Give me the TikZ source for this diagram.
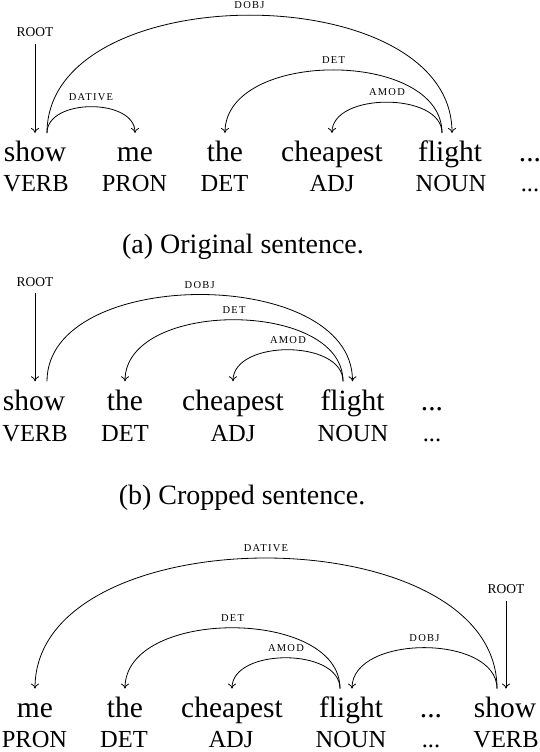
\documentclass[tikz,border=0pt]{standalone}
\usepackage{fontspec}
\setmainfont{Liberation Serif}
\newfontfamily\lblfont[LetterSpace=12]{Liberation Serif}
\usetikzlibrary{arrows.meta}

\begin{document}
\begin{tikzpicture}[x=1pt, y=-1pt,
        word/.style={anchor=base, inner sep=0pt, text height=28.5pt, text depth=0pt, font=\fontsize{29.5}{30}\selectfont},
        postag/.style={anchor=base, inner sep=0pt, text height=17pt, text depth=0pt, font=\fontsize{24.5}{25}\selectfont},
        rootlbl/.style={inner sep=0pt, font=\fontsize{13.5}{14}\selectfont},
        lbl/.style={inner sep=0pt, font=\lblfont\fontsize{10.5}{11}\selectfont},
        dep/.style={line width=0.8pt, -{To[length=5pt,width=8pt]}},
        capt/.style={anchor=base, inner sep=0pt, font=\fontsize{28}{30}\selectfont}]
        \useasboundingbox (0,0) rectangle (540,752);

        % (a) original sentence
        \node[word] (showA) at (35,161.7) {show};
        \node[word] (meA) at (135,161.7) {me};
        \node[word] (theA) at (225,161.7) {the};
        \node[word] (cheapestA) at (332,161.7) {cheapest};
        \node[word] (flightA) at (450,161.7) {flight};
        \node[word] (dotsA) at (530,161.7) {...};
        \node[postag] (verbA) at (36,191.7) {VERB};
        \node[postag] (pronA) at (134.5,191.7) {PRON};
        \node[postag] (detA) at (224.5,191.7) {DET};
        \node[postag] (adjA) at (332,191.7) {ADJ};
        \node[postag] (nounA) at (451,191.7) {NOUN};
        \node[postag] (tagdotsA) at (530,191.7) {...};

        \node[rootlbl] (rootA) at (35,32.3) {ROOT};
        \draw[dep] ([yshift=-7pt]rootA.south) -- (showA.north);
        \draw[dep] ([xshift=12pt]showA.north) .. controls +(0,-35) and +(0,-35) .. (meA.north) node[lbl, midway, above=6pt] {DATIVE};
        \draw[dep] ([xshift=12pt]showA.north) .. controls +(0,-157) and +(0,-157) .. ([xshift=2pt]flightA.north) node[lbl, midway, above=6pt] {DOBJ};
        \draw[dep] ([xshift=-8pt]flightA.north) .. controls +(0,-84) and +(0,-84) .. (theA.north) node[lbl, midway, above=6pt] {DET};
        \draw[dep] ([xshift=-8pt]flightA.north) .. controls +(0,-41) and +(0,-41) .. (cheapestA.north) node[lbl, midway, above=6pt] {AMOD};

        \node[capt] (captA) at (243,253.5) {(a) Original sentence.};

        % (b) cropped sentence
        \node[word] (showB) at (34,410) {show};
        \node[word] (theB) at (125,410) {the};
        \node[word] (cheapestB) at (233,410) {cheapest};
        \node[word] (flightB) at (352.5,410) {flight};
        \node[word] (dotsB) at (432,410) {...};
        \node[postag] (verbB) at (35,441.7) {VERB};
        \node[postag] (detB) at (125,441.7) {DET};
        \node[postag] (adjB) at (233,441.7) {ADJ};
        \node[postag] (nounB) at (353,441.7) {NOUN};
        \node[postag] (tagdotsB) at (432,441.7) {...};

        \node[rootlbl] (rootB) at (35,281.7) {ROOT};
        \draw[dep] ([yshift=-7pt]rootB.south) -- ([xshift=1pt]showB.north);
        \draw[dep] ([xshift=13pt]showB.north) .. controls +(0,-115.6) and +(0,-115.6) .. (flightB.north) node[lbl, midway, above=6pt] {DOBJ};
        \draw[dep] ([xshift=-9.5pt]flightB.north) .. controls +(0,-82) and +(0,-82) .. (theB.north) node[lbl, midway, above=6pt] {DET};
        \draw[dep] ([xshift=-9.5pt]flightB.north) .. controls +(0,-42) and +(0,-42) .. (cheapestB.north) node[lbl, midway, above=6pt] {AMOD};

        \node[capt] (captB) at (242,504) {(b) Cropped sentence.};

        % (c) reordered sentence
        \node[word] (meC) at (35,717.3) {me};
        \node[word] (theC) at (125,717.3) {the};
        \node[word] (cheapestC) at (232,717.3) {cheapest};
        \node[word] (flightC) at (351,717.3) {flight};
        \node[word] (dotsC) at (431,717.3) {...};
        \node[word] (showC) at (505,717.3) {show};
        \node[postag] (pronC) at (34.5,747) {PRON};
        \node[postag] (detC) at (124,747) {DET};
        \node[postag] (adjC) at (231,747) {ADJ};
        \node[postag] (nounC) at (351,747) {NOUN};
        \node[postag] (tagdotsC) at (431,747) {...};
        \node[postag] (verbC) at (506,747) {VERB};

        \node[rootlbl] (rootC) at (506,589.3) {ROOT};
        \draw[dep] ([yshift=-7pt]rootC.south) -- ([xshift=1pt]showC.north);
        \draw[dep] ([xshift=-8pt]showC.north) .. controls +(0,-174) and +(0,-174) .. (meC.north) node[lbl, midway, above=6pt] {DATIVE};
        \draw[dep] ([xshift=-11pt]flightC.north) .. controls +(0,-81) and +(0,-81) .. (theC.north) node[lbl, midway, above=6pt] {DET};
        \draw[dep] ([xshift=-11pt]flightC.north) .. controls +(0,-41) and +(0,-41) .. (cheapestC.north) node[lbl, midway, above=6pt] {AMOD};
        \draw[dep] ([xshift=-8pt]showC.north) .. controls +(0,-54.5) and +(0,-54.5) .. ([xshift=1pt]flightC.north) node[lbl, midway, above=6pt] {DOBJ};
\end{tikzpicture}
\end{document}
